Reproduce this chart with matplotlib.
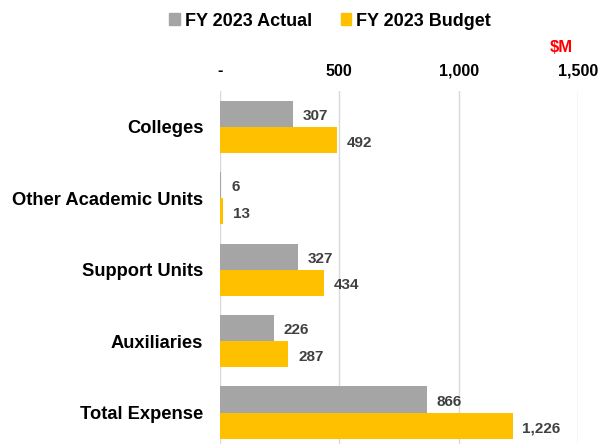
import matplotlib
matplotlib.use("Agg")
import matplotlib.pyplot as plt
from matplotlib.patches import Patch

plt.rcParams['font.family'] = ['Liberation Sans', 'DejaVu Sans']

categories = ["Colleges", "Other Academic Units", "Support Units", "Auxiliaries", "Total Expense"]
actual = [307, 6, 327, 226, 866]
budget = [492, 13, 434, 287, 1226]
series_names = ["FY 2023 Actual", "FY 2023 Budget"]
tick_values = [0, 500, 1000, 1500]
tick_labels = ["-", "500", "1,000", "1,500"]

c_actual = "#A5A5A5"
c_budget = "#FFC000"
label_color = "#404040"

fig = plt.figure(figsize=(6.01, 4.44), dpi=100)
ax = fig.add_axes([220 / 601, 0.0, (578 - 220) / 601, (444 - 91) / 444])

h = 0.365
ys = list(range(len(categories)))
ax.barh([y - h / 2 for y in ys], actual, height=h, color=c_actual, zorder=3)
ax.barh([y + h / 2 for y in ys], budget, height=h, color=c_budget, zorder=3)

for y, a, b in zip(ys, actual, budget):
    ax.annotate(f"{a:,}", (a, y - h / 2), xytext=(7, -1.5), textcoords="offset points",
                va="center", ha="left", fontsize=11, fontweight="bold", color=label_color)
    ax.annotate(f"{b:,}", (b, y + h / 2), xytext=(7, -2), textcoords="offset points",
                va="center", ha="left", fontsize=11, fontweight="bold", color=label_color)

ax.set_xlim(0, 1500)
ax.set_ylim(4.94 - 0.5, -0.5)
ax.set_yticks(ys)
ax.set_yticklabels(categories, fontsize=13.2, fontweight="bold")
ax.set_xticks(tick_values)
ax.set_xticklabels(tick_labels, fontsize=11.5, fontweight="bold")
ax.xaxis.tick_top()
ax.tick_params(axis="both", length=0)
ax.tick_params(axis="x", pad=9)
ax.tick_params(axis="y", pad=12)
ax.grid(axis="x", color="#D9D9D9", linewidth=1, zorder=0)
for s in ax.spines.values():
    s.set_visible(False)

fig.text(561 / 601, 1 - 48 / 444, "$M", color="red", fontsize=12, fontweight="bold",
         ha="center", va="center")

handles = [Patch(color=c_actual), Patch(color=c_budget)]
fig.legend(handles, series_names, loc="center", bbox_to_anchor=(330 / 601, 1 - 21 / 444),
           ncol=2, frameon=False, prop={"size": 13, "weight": "bold"},
           handlelength=0.6, handleheight=0.6, handletextpad=0.25, columnspacing=1.6)

fig.savefig("out.png", dpi=100)
